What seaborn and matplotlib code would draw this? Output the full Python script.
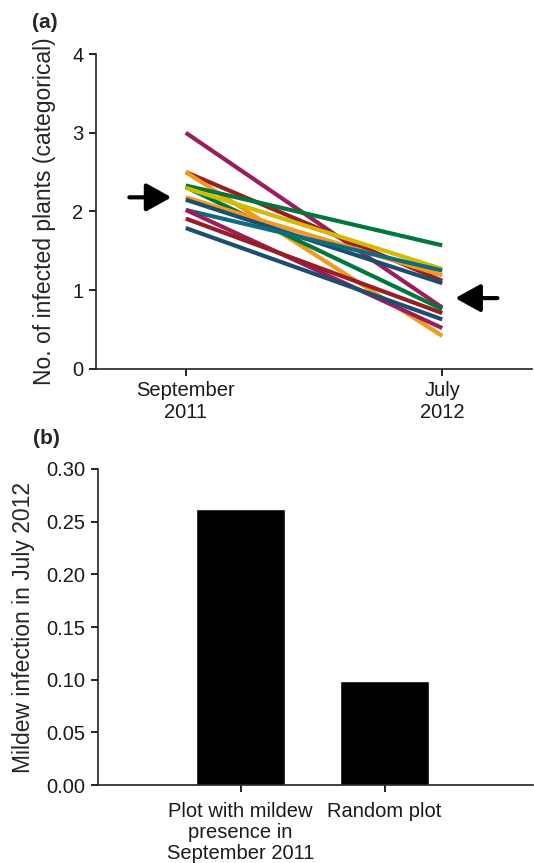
import numpy as np
import pandas as pd
import matplotlib
matplotlib.use("Agg")
import matplotlib.pyplot as plt
import seaborn as sns

# ---------------- Data ----------------
# Panel (a): number of infected plants per plot, Sept 2011 -> July 2012
time_labels = ["September\n2011", "July\n2012"]
plot_ids = ["p1", "p2", "p3", "p4", "p5", "p6", "p7", "p8", "p9", "p10", "p11", "p12"]
sept_2011 = [3.00, 2.50, 2.50, 2.33, 2.31, 2.30, 2.18, 2.15, 2.02, 2.02, 1.91, 1.79]
july_2012 = [0.78, 1.12, 0.42, 1.57, 0.76, 1.27, 1.19, 1.09, 1.25, 0.52, 0.71, 0.63]
line_colors = ["#9C1C5C", "#9B1D24", "#F39A1B", "#00773C", "#00773C", "#D3BC00",
               "#F39A1B", "#1B4F72", "#0F6C7E", "#9C1C5C", "#9B1D24", "#1B4F72"]

# Panel (b): mildew infection in July 2012
bar_labels = ["Plot with mildew\npresence in\nSeptember 2011", "Random plot"]
bar_values = [0.262, 0.099]

# ---------------- Style ----------------
sns.set_theme(style="ticks")
plt.rcParams["font.family"] = ["Liberation Sans", "DejaVu Sans"]
plt.rcParams["axes.linewidth"] = 1.2
plt.rcParams["xtick.major.width"] = 1.2
plt.rcParams["ytick.major.width"] = 1.2

fig = plt.figure(figsize=(5.34, 8.63), dpi=100)
W, H = 534, 863

def add_ax(l, t, r, b):
    return fig.add_axes([l / W, 1 - b / H, (r - l) / W, (b - t) / H])

TICK_FS = 14.5
LABEL_FS = 16.5

# ---------------- Panel (a) ----------------
ax1 = add_ax(96, 54, 532, 369)
rows = []
for pid, s, j in zip(plot_ids, sept_2011, july_2012):
    rows.append({"plot": pid, "time": 0, "value": s})
    rows.append({"plot": pid, "time": 1, "value": j})
df_a = pd.DataFrame(rows)
sns.lineplot(data=df_a, x="time", y="value", hue="plot", hue_order=plot_ids,
             palette=dict(zip(plot_ids, line_colors)), linewidth=3.0,
             legend=False, ax=ax1, estimator=None, solid_capstyle="butt")
ax1.set_xlim(-0.35, 1.35)
ax1.set_ylim(0, 4)
ax1.set_xticks(range(len(time_labels)))
ax1.set_xticklabels(time_labels, fontsize=TICK_FS, color="#1a1a1a", linespacing=1.2)
ax1.set_yticks([0, 1, 2, 3, 4])
ax1.set_yticklabels(["0", "1", "2", "3", "4"], fontsize=TICK_FS, color="#1a1a1a")
ax1.set_xlabel("")
ax1.set_ylabel("No. of infected plants (categorical)", fontsize=LABEL_FS,
               va="center")
ax1.yaxis.set_label_coords(-0.119, 0.5)
ax1.tick_params(axis="both", length=5, pad=4, color="black")
sns.despine(ax=ax1)
for sp in ax1.spines.values():
    sp.set_color("#222222")

arrow_kw = dict(arrowstyle="-|>,head_length=0.9,head_width=0.5", color="black",
                lw=3.0, shrinkA=0, shrinkB=0, mutation_scale=17)
ax1.annotate("", xy=(-0.056, 2.18), xytext=(-0.22, 2.18), arrowprops=arrow_kw,
             annotation_clip=False)
ax1.annotate("", xy=(1.051, 0.90), xytext=(1.215, 0.90), arrowprops=arrow_kw,
             annotation_clip=False)

fig.text(45 / W, 1 - 22 / H, "(a)", fontsize=15, fontweight="bold",
         ha="center", va="center")

# ---------------- Panel (b) ----------------
ax2 = add_ax(98, 469, 533, 785)
df_b = pd.DataFrame({"group": bar_labels, "value": bar_values})
sns.barplot(data=df_b, x="group", y="value", order=bar_labels, color="black",
            width=0.614, saturation=1, ax=ax2)
ax2.set_xlim(-0.99, 2.03)
ax2.set_ylim(0, 0.30)
ax2.set_yticks([0.00, 0.05, 0.10, 0.15, 0.20, 0.25, 0.30])
ax2.set_yticklabels(["0.00", "0.05", "0.10", "0.15", "0.20", "0.25", "0.30"],
                    fontsize=TICK_FS, color="#1a1a1a")
ax2.set_xticks(range(len(bar_labels)))
ax2.set_xticklabels(bar_labels, fontsize=TICK_FS, color="#1a1a1a", linespacing=1.15)
ax2.set_xlabel("")
ax2.set_ylabel("Mildew infection in July 2012", fontsize=LABEL_FS, va="center")
ax2.yaxis.set_label_coords(-0.172, 0.5)
ax2.tick_params(axis="y", length=5, pad=4, color="black")
ax2.tick_params(axis="x", length=5, pad=7, color="black")
sns.despine(ax=ax2)
for sp in ax2.spines.values():
    sp.set_color("#222222")

fig.text(46 / W, 1 - 438 / H, "(b)", fontsize=15, fontweight="bold",
         ha="center", va="center")

fig.savefig("out.png", dpi=100)
